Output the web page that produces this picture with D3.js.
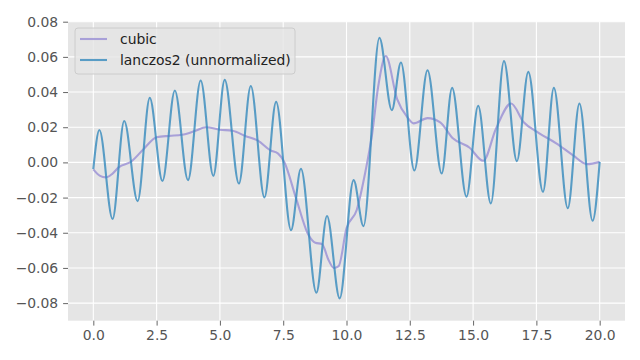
<!DOCTYPE html>
<html>
<head>
<meta charset="utf-8">
<script src="https://cdn.jsdelivr.net/npm/d3@7"></script>
<style>
html,body{margin:0;padding:0;background:#fff;}
svg{display:block;}
text{font-family:"DejaVu Sans",sans-serif;}
</style>
</head>
<body>
<svg id="chart" width="640" height="360"></svg>
<script>
// ---- data ----
const seriesNames = ["cubic", "lanczos2 (unnormalized)"];
const xTicks = [0, 2.5, 5, 7.5, 10, 12.5, 15, 17.5, 20];
const yTicks = [-0.08, -0.06, -0.04, -0.02, 0, 0.02, 0.04, 0.06, 0.08];

const cubicX = [0,0.25,0.5,0.75,1.0,1.5,2.0,2.5,3.0,3.5,4.0,4.45,5.0,5.5,6.0,6.5,7.0,7.3,7.55,8.0,8.5,8.77,9.03,9.29,9.5,9.69,10.0,10.4,10.75,11.0,11.25,11.55,12.0,12.4,12.65,13.2,13.7,14.2,14.85,15.4,15.9,16.5,17.0,17.6,18.3,18.95,19.5,20.0];
const cubicY = [-0.0040,-0.0075,-0.0085,-0.0065,-0.0028,0.0005,0.0078,0.0143,0.0151,0.0157,0.0178,0.0200,0.0186,0.0180,0.0150,0.0124,0.0068,0.0050,0.0000,-0.0200,-0.0413,-0.0457,-0.0464,-0.0555,-0.0600,-0.0590,-0.0375,-0.0272,-0.0050,0.0150,0.0430,0.0605,0.0360,0.0257,0.0222,0.0252,0.0228,0.0137,0.0085,0.0009,0.0190,0.0335,0.0228,0.0167,0.0107,0.0040,-0.0010,0.0003];

const lanczosX = [0.00,0.24,0.76,1.22,1.75,2.23,2.73,3.22,3.74,4.24,4.74,5.19,5.75,6.22,6.76,7.22,7.81,8.20,8.81,9.23,9.73,10.28,10.67,11.30,11.79,12.15,12.68,13.20,13.76,14.17,14.74,15.20,15.70,16.22,16.73,17.18,17.76,18.19,18.74,19.20,19.72,20.00];
const lanczosY = [-0.0038,0.0184,-0.0322,0.0235,-0.0220,0.0367,-0.0106,0.0409,-0.0101,0.0466,-0.0076,0.0469,-0.0120,0.0434,-0.0199,0.0344,-0.0385,-0.0036,-0.0741,-0.0305,-0.0773,-0.0101,-0.0362,0.0708,0.0297,0.0568,-0.0046,0.0524,-0.0063,0.0424,-0.0195,0.0322,-0.0233,0.0576,0.0007,0.0515,-0.0167,0.0424,-0.0261,0.0335,-0.0332,0.0003];

// ---- layout ----
const svg = d3.select("#chart");
const L = 68, R = 625, T = 21.7, B = 320.7;
const x = d3.scaleLinear().domain([-1, 21]).range([L, R]);
const y = d3.scaleLinear().domain([-0.09, 0.08]).range([B, T]);
const colors = ["#988ED5", "#348ABD"];
const FS = "13.9px";

svg.append("rect").attr("x", L).attr("y", T).attr("width", R - L).attr("height", B - T).attr("fill", "#E5E5E5");

// grid
const g = svg.append("g");
g.selectAll(".gx").data(xTicks).join("line")
  .attr("x1", d => x(d)).attr("x2", d => x(d)).attr("y1", T).attr("y2", B)
  .attr("stroke", "#fff").attr("stroke-width", 1.1);
g.selectAll(".gy").data(yTicks).join("line")
  .attr("x1", L).attr("x2", R).attr("y1", d => y(d)).attr("y2", d => y(d))
  .attr("stroke", "#fff").attr("stroke-width", 1.1);

// axes
const fmtY = d3.format(".2f"), fmtX = d3.format(".1f");
const xAxis = svg.append("g").attr("transform", `translate(0,${B})`)
  .call(d3.axisBottom(x).tickValues(xTicks).tickFormat(fmtX).tickSize(4.9).tickPadding(4.9));
const yAxis = svg.append("g").attr("transform", `translate(${L},0)`)
  .call(d3.axisLeft(y).tickValues(yTicks).tickFormat(fmtY).tickSize(4.9).tickPadding(4.9));
[xAxis, yAxis].forEach(a => {
  a.select(".domain").remove();
  a.selectAll(".tick line").attr("stroke", "#555555").attr("stroke-width", 0.9);
  a.selectAll(".tick text").attr("fill", "#555555").style("font-size", FS).style("font-family", "DejaVu Sans");
});

// lines
const clip = svg.append("clipPath").attr("id", "clip").append("rect")
  .attr("x", L).attr("y", T).attr("width", R - L).attr("height", B - T);
const line = d3.line().x(d => x(d[0])).y(d => y(d[1])).curve(d3.curveMonotoneX);
const cubicData = cubicX.map((v, i) => [v, cubicY[i]]);
const lanczosData = lanczosX.map((v, i) => [v, lanczosY[i]]);
[cubicData, lanczosData].forEach((data, i) => {
  svg.append("path").datum(data).attr("d", line)
    .attr("fill", "none").attr("stroke", colors[i]).attr("stroke-opacity", 0.8)
    .attr("stroke-width", 2.1).attr("clip-path", "url(#clip)");
});

// legend
const lg = svg.append("g");
lg.append("rect").attr("x", 75).attr("y", 28).attr("width", 220).attr("height", 46)
  .attr("rx", 3).attr("fill", "#E5E5E5").attr("fill-opacity", 0.8)
  .attr("stroke", "#CCCCCC").attr("stroke-width", 1);
seriesNames.forEach((name, i) => {
  const yy = 39 + i * 21;
  lg.append("line").attr("x1", 80).attr("x2", 107).attr("y1", yy).attr("y2", yy)
    .attr("stroke", colors[i]).attr("stroke-opacity", 0.8).attr("stroke-width", 2.1);
  lg.append("text").attr("x", 120).attr("y", yy + 5).text(name)
    .attr("fill", "#222").style("font-size", FS);
});
</script>
</body>
</html>
